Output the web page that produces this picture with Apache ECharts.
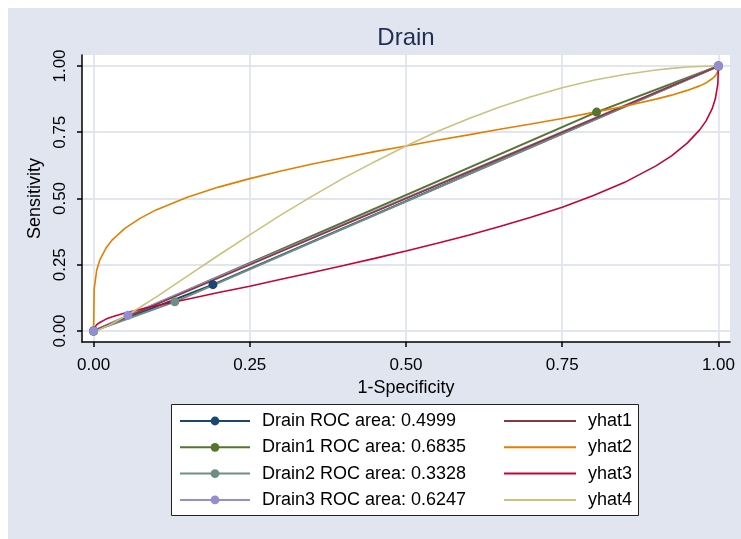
<!DOCTYPE html>
<html>
<head>
<meta charset="utf-8">
<title>Drain</title>
<script src="https://cdn.jsdelivr.net/npm/echarts@6/dist/echarts.min.js"></script>
<style>
  html, body { margin: 0; padding: 0; background: #fff; }
  #wrap { position: relative; width: 741px; height: 539px; }
  #bg { position: absolute; left: 8px; top: 8px; right: 0; bottom: 0; background: #e1e5f0; }
  #main { position: absolute; left: 0; top: 0; width: 741px; height: 539px; }
</style>
</head>
<body>
<div id="wrap"><div id="bg"></div><div id="main"></div></div>
<script>
// empirical ROC points [1-specificity, sensitivity]
var drainPts  = [[0, 0], [0.191, 0.175], [1, 1]];
var drain1Pts = [[0, 0], [0.805, 0.826], [1, 1]];
var drain2Pts = [[0, 0], [0.13, 0.11], [1, 1]];
var drain3Pts = [[0, 0], [0.055, 0.059], [1, 1]];

var rocNames = ['Drain ROC area: 0.4999', 'Drain1 ROC area: 0.6835',
                'Drain2 ROC area: 0.3328', 'Drain3 ROC area: 0.6247'];
var fitNames = ['yhat1', 'yhat2', 'yhat3', 'yhat4'];

// fitted curves
var fprGrid = [0, 0.001, 0.005, 0.01, 0.02, 0.03, 0.05, 0.075, 0.1, 0.15, 0.2, 0.25, 0.3, 0.35, 0.4, 0.45,
               0.5, 0.55, 0.6, 0.65, 0.7, 0.75, 0.8, 0.85, 0.9, 0.925, 0.95, 0.97, 0.98, 0.99, 0.995, 0.999, 1];
var yhat1 = [[0, 0], [0.25, 0.25], [0.5, 0.5], [0.75, 0.75], [1, 1]];
var yhat2 = [0, 0.160, 0.229, 0.268, 0.313, 0.344, 0.387, 0.426, 0.457, 0.505, 0.543, 0.575, 0.604, 0.630, 0.654, 0.677,
             0.698, 0.720, 0.740, 0.761, 0.781, 0.802, 0.825, 0.848, 0.875, 0.890, 0.908, 0.925, 0.936, 0.952, 0.963, 0.979, 1];
var yhat3 = [0, 0.010, 0.024, 0.032, 0.045, 0.054, 0.068, 0.082, 0.095, 0.120, 0.145, 0.169, 0.195, 0.221, 0.247, 0.274,
             0.302, 0.331, 0.361, 0.394, 0.429, 0.467, 0.511, 0.561, 0.623, 0.661, 0.709, 0.759, 0.792, 0.839, 0.876, 0.932, 1];
var yhat4 = [0, 0.0003, 0.0025, 0.0066, 0.0166, 0.0283, 0.0546, 0.0905, 0.128, 0.207, 0.286, 0.363, 0.438, 0.509, 0.577, 0.639,
             0.698, 0.753, 0.801, 0.845, 0.884, 0.918, 0.946, 0.968, 0.985, 0.991, 0.996, 0.998, 0.999, 1, 1, 1, 1];

var tickValues = [0, 0.25, 0.5, 0.75, 1];
var tickLabels = ['0.00', '0.25', '0.50', '0.75', '1.00'];

var rocColors = ['#1a476f', '#55752f', '#6e8e84', '#938dd2'];
var fitColors = ['#90353b', '#e37e00', '#c10534', '#cac27e'];

var font = "'Liberation Sans', Arial, sans-serif";

function pair(ys) {
  return fprGrid.map(function (x, i) { return [x, ys[i]]; });
}
function tickText(v) {
  for (var i = 0; i < tickValues.length; i++) {
    if (Math.abs(v - tickValues[i]) < 1e-6) return tickLabels[i];
  }
  return '';
}

var rocData = [drainPts, drain1Pts, drain2Pts, drain3Pts];
var fitData = [yhat1, pair(yhat2), pair(yhat3), pair(yhat4)];

var series = [];
rocData.forEach(function (d, i) {
  series.push({
    name: rocNames[i], type: 'line', data: d,
    symbol: 'circle', symbolSize: 9, showSymbol: true,
    lineStyle: {color: rocColors[i], width: 2},
    itemStyle: {color: rocColors[i]},
  });
});
fitData.forEach(function (d, i) {
  series.push({
    name: fitNames[i], type: 'line', data: d,
    symbol: 'none', showSymbol: false,
    lineStyle: {color: fitColors[i], width: 1.6},
    itemStyle: {color: fitColors[i]},
  });
});

function axisCommon () {
  return {
    type: 'value',
    nameLocation: 'middle',
    nameTextStyle: {fontSize: 18, color: '#000', fontFamily: font},
    axisLine: {show: true, onZero: false, lineStyle: {color: '#000', width: 1.5}},
    axisTick: {show: true, length: 5, customValues: tickValues, lineStyle: {color: '#000', width: 1.5}},
    axisLabel: {customValues: tickValues, formatter: tickText, fontSize: 17, color: '#000', fontFamily: font},
    splitLine: {show: true, lineStyle: {color: '#e1e5f0', width: 1.8}},
  };
}

var xAxis = axisCommon();
xAxis.min = -0.0185;
xAxis.max = 1.0185;
xAxis.name = '1-Specificity';
xAxis.nameGap = 33;
xAxis.axisLabel.margin = 15;

var yAxis = axisCommon();
yAxis.min = -0.0415;
yAxis.max = 1.0415;
yAxis.name = 'Sensitivity';
yAxis.nameGap = 26;
yAxis.nameRotate = 90;
yAxis.axisLabel.rotate = 90;
yAxis.axisLabel.margin = 13;

var legendText = {fontSize: 18, lineHeight: 20, color: '#000', fontFamily: font, padding: [0, 0, 0, 7]};

var option = {
  animation: false,
  backgroundColor: 'transparent',
  title: {
    text: 'Drain', left: 406, top: 26, padding: 0, textAlign: 'center',
    textStyle: {fontSize: 24, fontWeight: 'normal', color: '#1f2e52', fontFamily: font},
  },
  grid: {left: 82, right: 11, top: 55, bottom: 197, show: true, backgroundColor: '#fff', borderWidth: 0},
  graphic: [{
    type: 'rect', z: 0,
    shape: {x: 171.5, y: 404.5, width: 467, height: 111},
    style: {fill: '#fff', stroke: '#222', lineWidth: 1},
  }],
  legend: [
    {data: rocNames, orient: 'vertical', left: 179, top: 411, padding: 0, itemWidth: 70, itemHeight: 11,
     itemGap: 6.3, selectedMode: false, textStyle: legendText},
    {data: fitNames, orient: 'vertical', left: 503, top: 411, padding: 0, itemWidth: 72, itemHeight: 11,
     itemGap: 6.3, selectedMode: false, textStyle: legendText, itemStyle: {opacity: 0}},
  ],
  xAxis: xAxis,
  yAxis: yAxis,
  series: series,
};

var chart = echarts.init(document.getElementById('main'), null, {renderer: 'canvas'});
chart.setOption(option);
</script>
</body>
</html>
